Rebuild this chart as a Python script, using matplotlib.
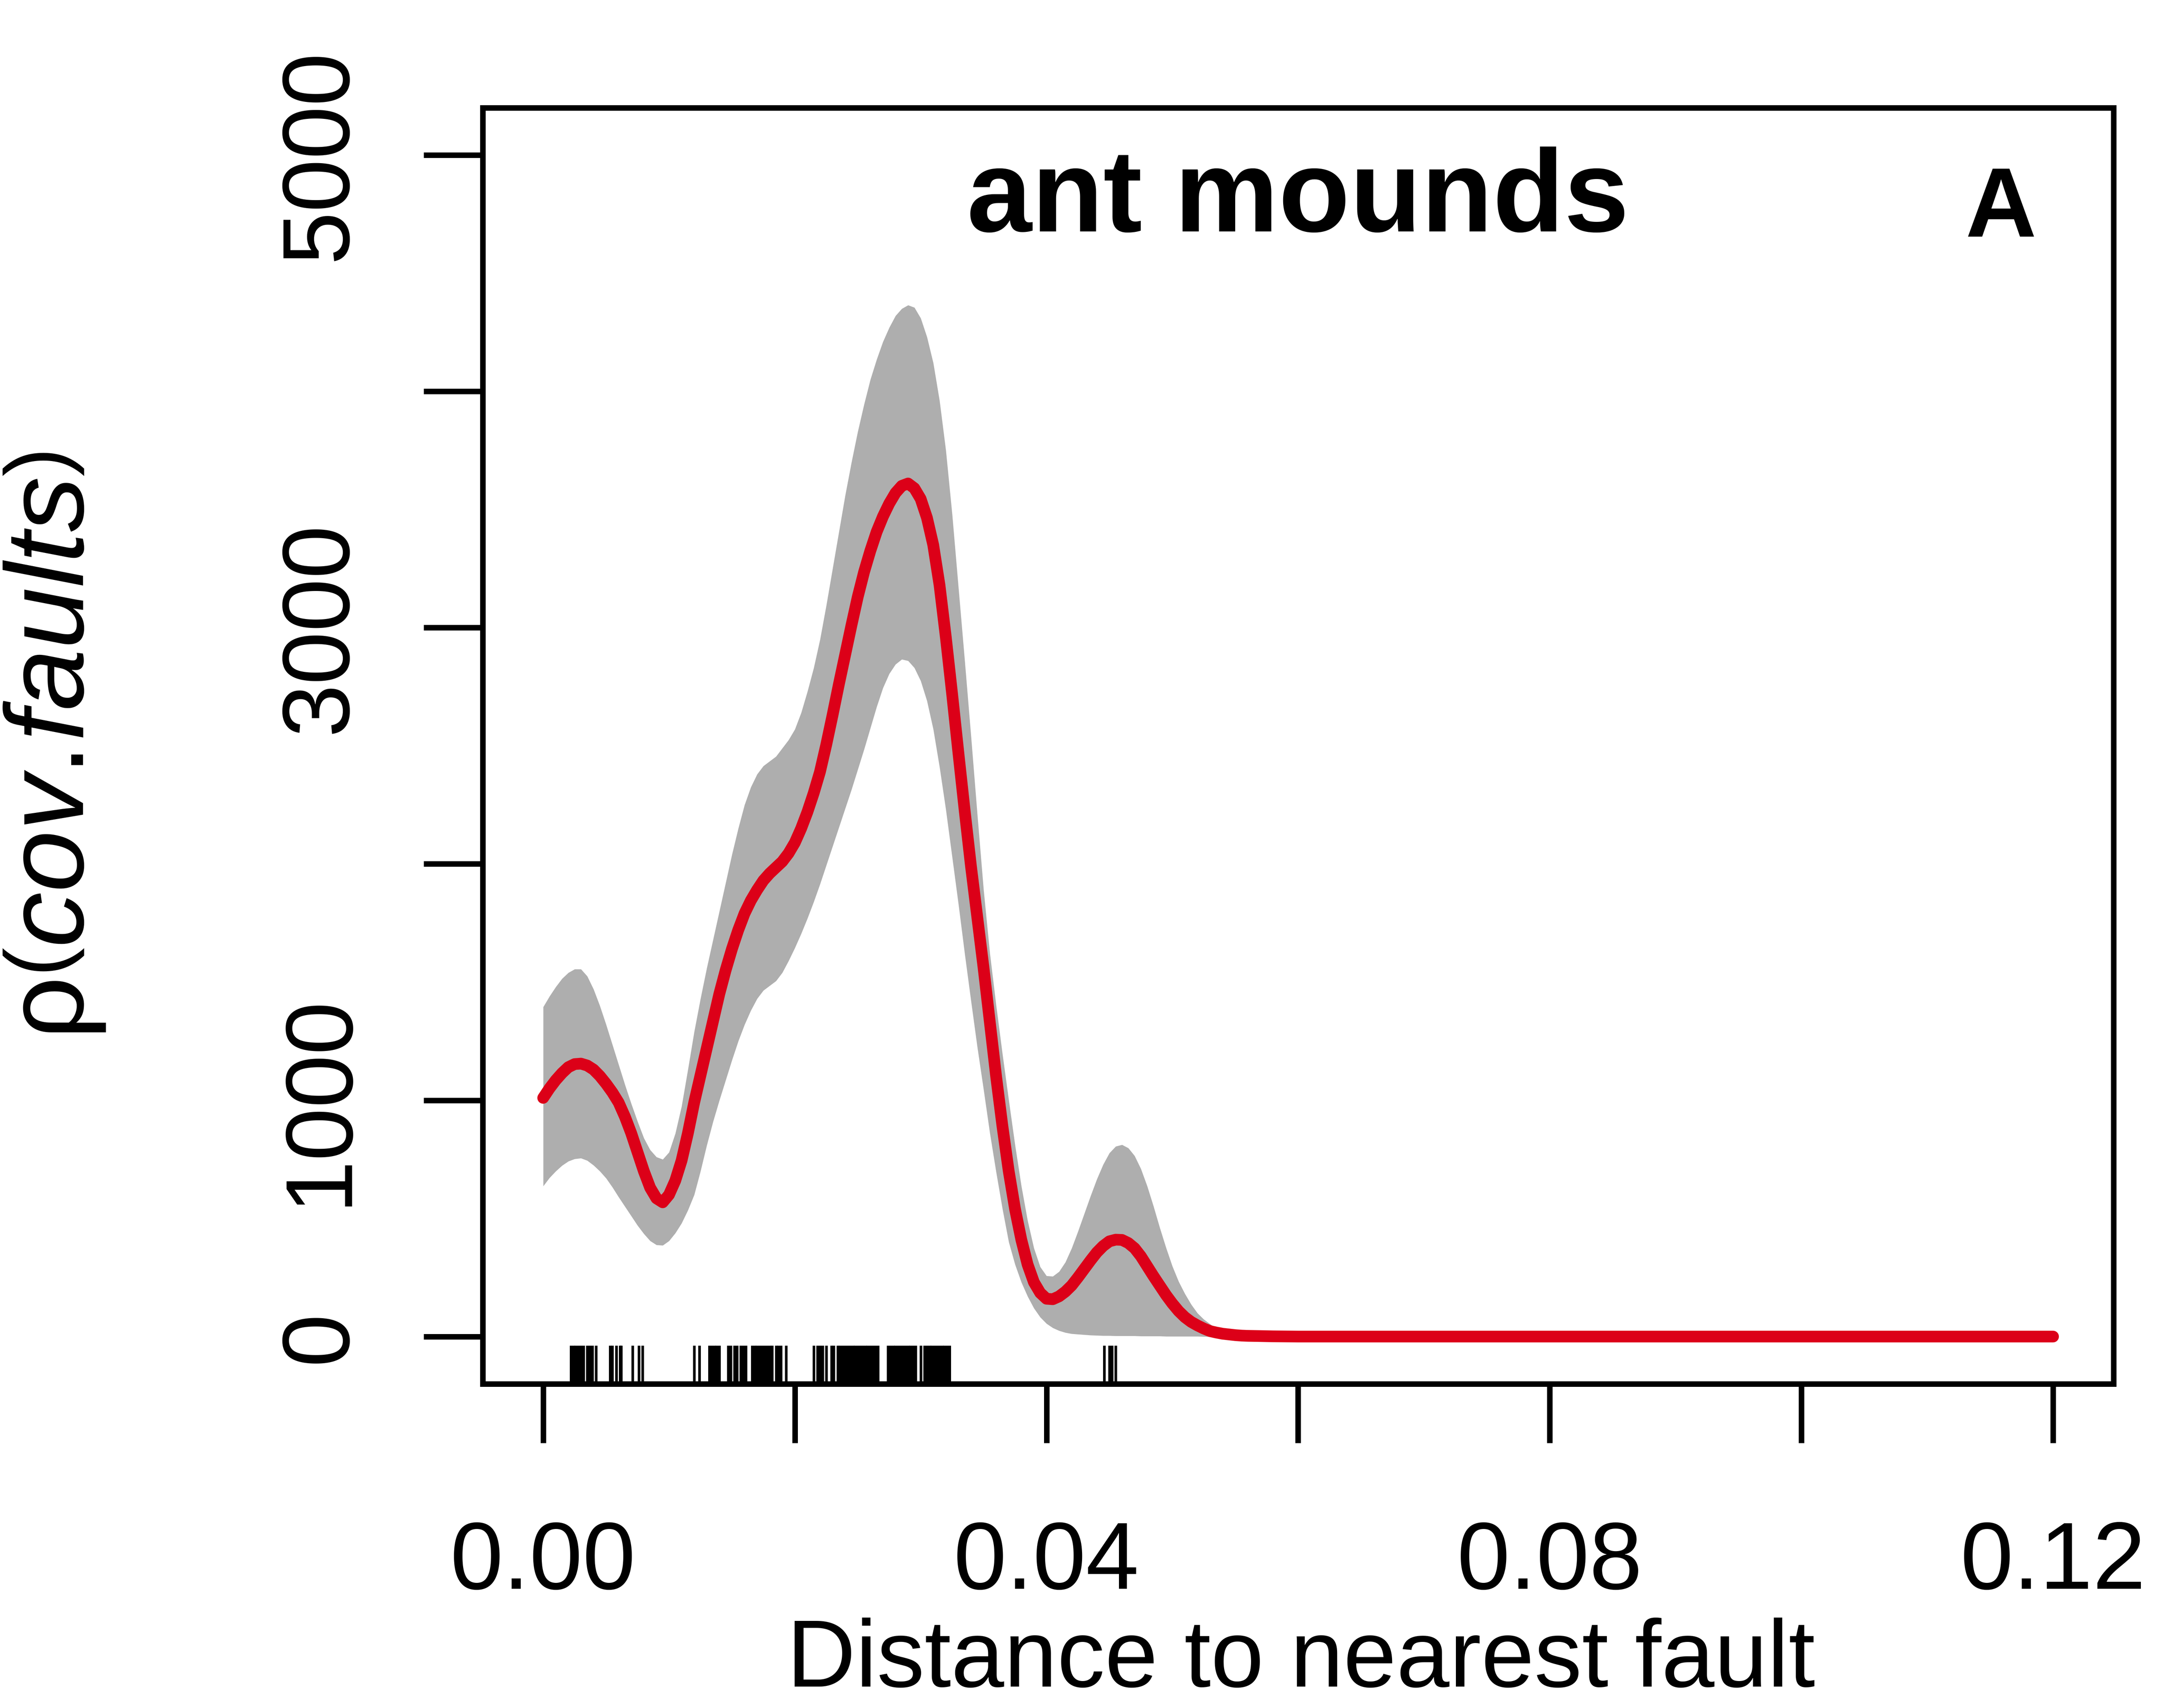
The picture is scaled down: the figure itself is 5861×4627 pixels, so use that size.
import matplotlib
matplotlib.use("Agg")
import matplotlib.pyplot as plt

plt.rcParams['font.family'] = ['Liberation Sans', 'DejaVu Sans']
plt.rcParams['mathtext.fontset'] = 'custom'
plt.rcParams['mathtext.rm'] = 'Liberation Sans'
plt.rcParams['mathtext.it'] = 'Liberation Sans:italic'

# distance to nearest fault (grid of the fitted intensity)
dist = [0.0000, 0.0005, 0.0010, 0.0015, 0.0020, 0.0025, 0.0030, 0.0035, 0.0040, 0.0045,
        0.0050, 0.0055, 0.0060, 0.0065, 0.0070, 0.0075, 0.0080, 0.0085, 0.0090, 0.0095,
        0.0100, 0.0105, 0.0110, 0.0115, 0.0120, 0.0125, 0.0130, 0.0135, 0.0140, 0.0145,
        0.0150, 0.0155, 0.0160, 0.0165, 0.0170, 0.0175, 0.0180, 0.0185, 0.0190, 0.0195,
        0.0200, 0.0205, 0.0210, 0.0215, 0.0220, 0.0225, 0.0230, 0.0235, 0.0240, 0.0245,
        0.0250, 0.0255, 0.0260, 0.0265, 0.0270, 0.0275, 0.0280, 0.0285, 0.0290, 0.0295,
        0.0300, 0.0305, 0.0310, 0.0315, 0.0320, 0.0325, 0.0330, 0.0335, 0.0340, 0.0345,
        0.0350, 0.0355, 0.0360, 0.0365, 0.0370, 0.0375, 0.0380, 0.0385, 0.0390, 0.0395,
        0.0400, 0.0405, 0.0410, 0.0415, 0.0420, 0.0425, 0.0430, 0.0435, 0.0440, 0.0445,
        0.0450, 0.0455, 0.0460, 0.0465, 0.0470, 0.0475, 0.0480, 0.0485, 0.0490, 0.0495,
        0.0500, 0.0505, 0.0510, 0.0515, 0.0520, 0.0525, 0.0530, 0.0535, 0.0540, 0.0545,
        0.0550, 0.0555, 0.0560,
        0.058, 0.060, 0.070, 0.080, 0.090, 0.100, 0.110, 0.120]

# estimated intensity rho(cov.faults)
rho = [1010, 1050, 1085, 1115, 1140, 1153, 1155, 1147, 1130, 1103,
       1070, 1033, 990, 930, 860, 780, 700, 630, 585, 568,
       600, 660, 745, 860, 990, 1105, 1220, 1335, 1450, 1550,
       1640, 1720, 1790, 1845, 1890, 1930, 1960, 1985, 2010, 2045,
       2090, 2150, 2220, 2300, 2390, 2505, 2630, 2760, 2885, 3010,
       3130, 3235, 3325, 3405, 3470, 3525, 3570, 3600, 3610, 3590,
       3545, 3465, 3350, 3180, 2960, 2720, 2470, 2225, 1990, 1775,
       1560, 1330, 1100, 890, 700, 540, 410, 305, 230, 185,
       160, 158, 170, 190, 216, 250, 286, 322, 356, 383,
       403, 410, 409, 396, 374, 340, 298, 256, 216, 176,
       140, 108, 82, 62, 47, 34, 23, 17, 12, 9,
       6, 4, 3,
       1, 0, 0, 0, 0, 0, 0, 0]

# pointwise confidence band
rho_hi = [1395, 1440, 1480, 1515, 1540, 1555, 1555, 1525, 1470, 1400,
          1320, 1235, 1150, 1065, 985, 910, 840, 790, 760, 750,
          780, 860, 975, 1130, 1290, 1430, 1560, 1680, 1800, 1920,
          2040, 2150, 2250, 2325, 2380, 2415, 2435, 2455, 2490, 2525,
          2570, 2640, 2730, 2830, 2950, 3095, 3250, 3405, 3560, 3700,
          3830, 3945, 4050, 4135, 4210, 4270, 4320, 4350, 4365, 4355,
          4310, 4230, 4120, 3960, 3750, 3480, 3170, 2860, 2540, 2210,
          1890, 1620, 1400, 1195, 1000, 810, 637, 490, 374, 295,
          257, 255, 275, 315, 374, 445, 520, 595, 666, 728,
          777, 805, 812, 798, 765, 710, 637, 552, 461, 376,
          298, 233, 181, 136, 99, 73, 53, 36, 23, 16,
          12, 9, 6,
          2, 0, 0, 0, 0, 0, 0, 0]
rho_lo = [637, 672, 700, 724, 742, 752, 755, 745, 725, 700,
          670, 632, 590, 550, 510, 470, 435, 405, 388, 386,
          405, 438, 480, 535, 600, 700, 810, 910, 1000, 1085,
          1170, 1250, 1320, 1380, 1430, 1465, 1485, 1505, 1540, 1590,
          1645, 1705, 1770, 1840, 1915, 1995, 2075, 2155, 2235, 2315,
          2400, 2485, 2575, 2665, 2745, 2805, 2845, 2866, 2860, 2830,
          2775, 2690, 2570, 2410, 2230, 2030, 1830, 1620, 1420, 1225,
          1045, 860, 695, 540, 400, 305, 230, 170, 120, 82,
          55, 37, 25, 17, 12, 10, 8, 6, 5, 4,
          4, 3, 3, 3, 3, 2, 2, 2, 2, 1,
          1, 1, 1, 1, 1, 0, 0, 0, 0, 0,
          0, 0, 0,
          0, 0, 0, 0, 0, 0, 0, 0]

# observed covariate values at the ant mounds (rug)
mound_dist = [
    0.0022, 0.0024, 0.0026, 0.0028, 0.0030, 0.0032,
    0.0035, 0.0037, 0.0039, 0.0042,
    0.0053, 0.0055, 0.0058, 0.0061, 0.0062,
    0.0071, 0.0076, 0.0079,
    0.0120, 0.0124,
    0.0132, 0.0134, 0.0136, 0.0138, 0.0140,
    0.0147, 0.0149, 0.0152, 0.0154, 0.0157, 0.0159, 0.0161,
    0.0166, 0.0168, 0.0170, 0.0172, 0.0174, 0.0176, 0.0178, 0.0180, 0.0182,
    0.0185, 0.0187, 0.0189, 0.0193,
    0.0215, 0.0218, 0.0220, 0.0222, 0.0225, 0.0229, 0.0231,
    0.0234, 0.0236, 0.0238, 0.0240, 0.0242, 0.0244, 0.0246, 0.0248, 0.0250,
    0.0252, 0.0254, 0.0256, 0.0258, 0.0260, 0.0262, 0.0264, 0.0266,
    0.0274, 0.0276, 0.0278, 0.0280, 0.0282, 0.0284, 0.0286, 0.0288, 0.0290,
    0.0292, 0.0294, 0.0296, 0.0300,
    0.0303, 0.0305, 0.0307, 0.0309, 0.0311, 0.0313, 0.0315, 0.0317, 0.0319,
    0.0321, 0.0323,
    0.0446, 0.0450, 0.0452, 0.0455,
]

xticks = [0.00, 0.02, 0.04, 0.06, 0.08, 0.10, 0.12]
xticklabels = ['0.00', '', '0.04', '', '0.08', '', '0.12']
yticks = [0, 1000, 2000, 3000, 4000, 5000]
yticklabels = ['0', '1000', '', '3000', '', '5000']

fig = plt.figure(figsize=(5861 / 600, 4627 / 600), dpi=600)
ax = fig.add_axes([0.2232, 0.1898, 0.7539, 0.7471])

ax.fill_between(dist, rho_lo, rho_hi, color='#AEAEAE', lw=0)
ax.plot(dist, rho, color='#DC0018', lw=3.8, solid_capstyle='round',
        solid_joinstyle='round')
ax.vlines(mound_dist, 0, 0.03, transform=ax.get_xaxis_transform(),
          color='black', lw=0.85)

ax.set_xlim(-0.0048, 0.1248)
ax.set_ylim(-200, 5200)

for s in ax.spines.values():
    s.set_linewidth(1.8)

ax.set_xticks(xticks)
ax.set_xticklabels(xticklabels)
ax.set_yticks(yticks)
ax.set_yticklabels(yticklabels, rotation=90, va='center')
ax.tick_params(axis='both', direction='out', length=19.2, width=1.8,
               labelsize=31)
ax.tick_params(axis='x', pad=25)
ax.tick_params(axis='y', pad=19)

ax.text(0.5, 0.903, 'ant mounds', transform=ax.transAxes, ha='center',
        va='baseline', fontsize=38, fontweight='bold')
ax.text(0.931, 0.899, 'A', transform=ax.transAxes, ha='center',
        va='baseline', fontsize=32, fontweight='bold')

fig.text(0.6014, 0.0125, 'Distance to nearest fault', ha='center',
         va='baseline', fontsize=31)
fig.text(0.0495, 0.5634, r'$\mathrm{\rho}\left(\mathit{cov.\!faults}\right)$',
         rotation=90, ha='right', va='center', fontsize=36)

fig.savefig('out.png', dpi=600)
